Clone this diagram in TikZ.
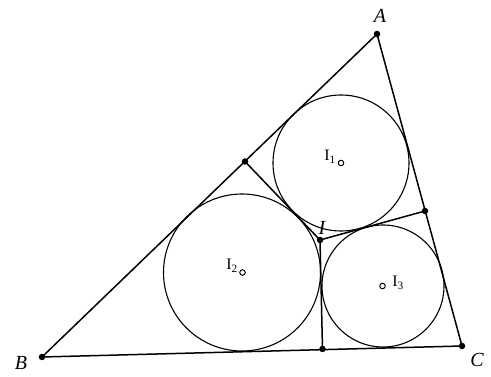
\documentclass[tikz,border=0pt]{standalone}
\usepackage{fontspec}
\setmainfont{Liberation Serif}
\begin{document}
\begin{tikzpicture}[x=1pt,y=-1pt,
  edge/.style={line width=1.5pt},
  circ/.style={line width=1.1pt},
  pt/.style={circle,fill=black,inner sep=0pt,minimum size=6.5pt},
  ctr/.style={circle,draw=black,fill=white,line width=1pt,inner sep=0pt,minimum size=5.5pt},
  big/.style={font=\fontsize{20}{22}\selectfont\itshape},
  small/.style={font=\fontsize{16}{18}\selectfont}]
\useasboundingbox (0,0) rectangle (491,377);
\coordinate (A) at (377,34);
\coordinate (B) at (42,357);
\coordinate (C) at (462,346);
\coordinate (D) at (245,161.5);
\coordinate (E) at (425,211);
\coordinate (F) at (322.5,349);
\coordinate (I) at (320,240);
\draw[circ] (341,163) circle (68);
\draw[circ] (242,272.5) circle (78.5);
\draw[circ] (383,286) circle (61);
\draw[edge] (A) -- (B) -- (C) -- cycle;
\draw[edge] (D) -- (I) -- (E);
\draw[edge] (I) -- (F);
\foreach \p in {A,B,C,D,E,F,I} \node[pt] (n\p) at (\p) {};
\node[ctr] (c1) at (341,163) {};
\node[ctr] (c2) at (242.5,272.5) {};
\node[ctr] (c3) at (382.5,286) {};
\node[big] (lA) at (380,16) {A};
\node[big] (lB) at (21,363) {B};
\node[big] (lC) at (477,360) {C};
\node[big] (lI) at (322,228) {I};
\node[small] (l1) at (330,157) {I$_{\mathrm{1}}$};
\node[small] (l2) at (232,266) {I$_{\mathrm{2}}$};
\node[small] (l3) at (398,283) {I$_{\mathrm{3}}$};
\end{tikzpicture}
\end{document}
